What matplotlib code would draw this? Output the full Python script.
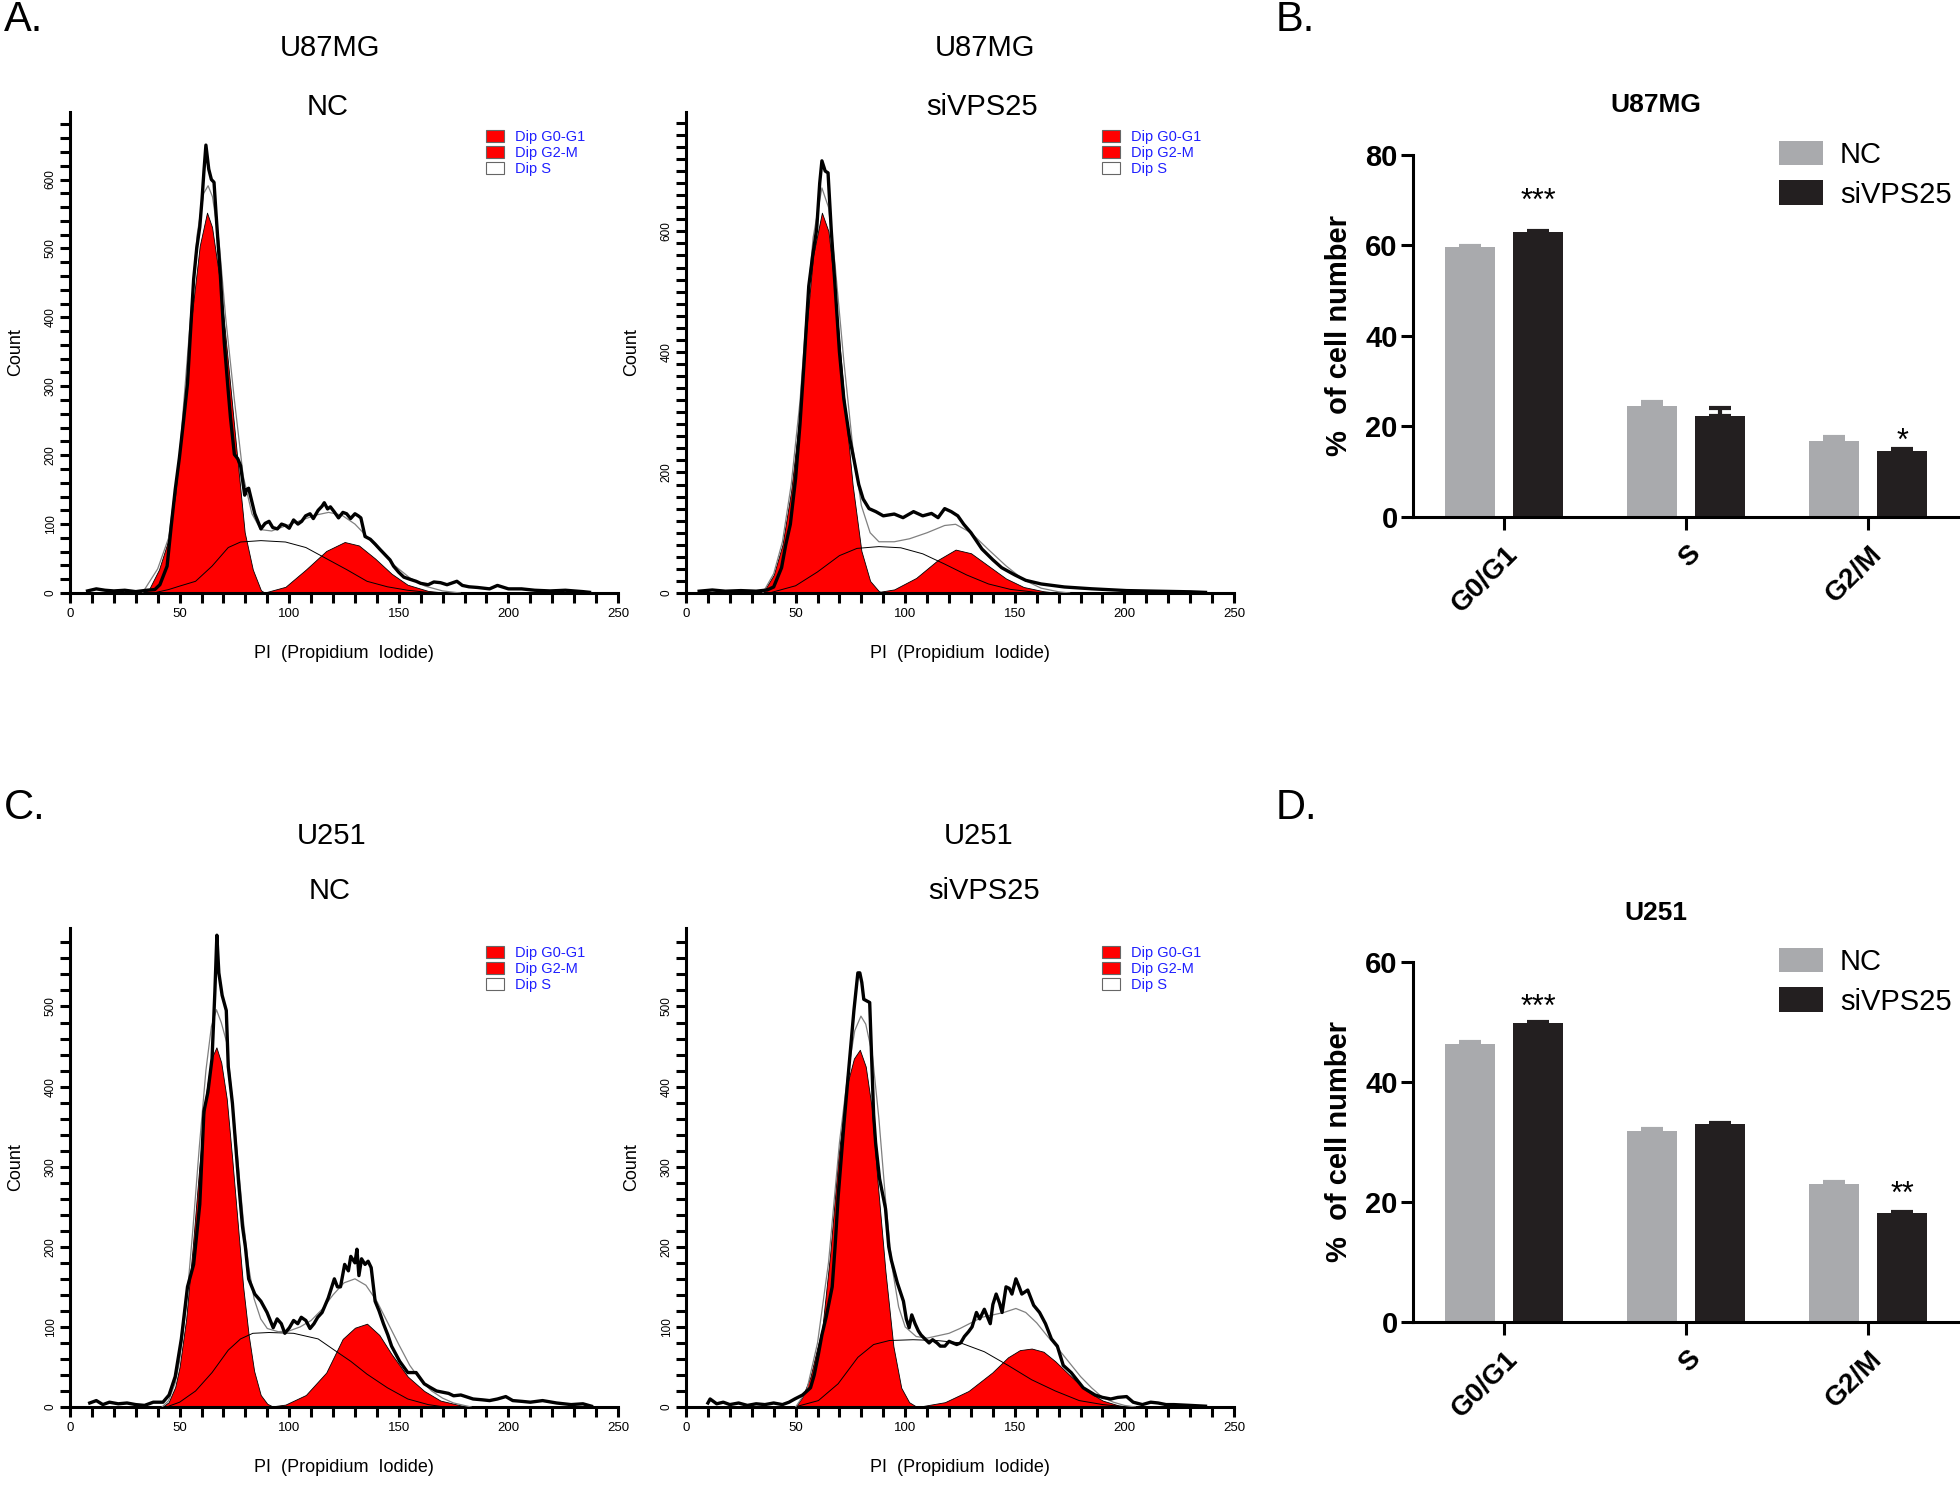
import numpy as np
import matplotlib
matplotlib.use('Agg')
import matplotlib.pyplot as plt
from matplotlib.patches import Patch
from matplotlib.ticker import MultipleLocator
import matplotlib.transforms as mtransforms

plt.rcParams['font.family'] = ['Liberation Sans', 'DejaVu Sans']

# ---- cell cycle histograms, (PI, count) pairs ----
# U87MG NC
u87_nc_hist = [(8, 3), (12, 6), (16, 4), (20, 3), (25, 4), (30, 2), (35, 4), (38.7, 5), (41, 12), (44.3, 39),
               (46.2, 98), (48, 150), (49.9, 196), (51.8, 250), (53.6, 304), (55, 380), (56.4, 455), (57.8, 500),
               (59.2, 531), (60.2, 570), (61.1, 612), (62, 650), (63.3, 615), (64.5, 600), (65.7, 596), (66.6, 552),
               (67.5, 510), (68.5, 466), (70.4, 363), (72, 300), (73.2, 255), (75, 201), (76.5, 195), (77.8, 185),
               (79.7, 142), (80.5, 150), (81.5, 152), (84.3, 115), (87.1, 93), (89, 101), (90.8, 104), (92.5, 95),
               (94.6, 93), (96.5, 100), (98.3, 98), (100, 94), (102, 106), (104, 100), (105.7, 104), (107.5, 112),
               (109.5, 115), (111, 108), (113.2, 120), (115, 126), (116, 131), (117.5, 122), (118.8, 125),
               (120.5, 118), (122.5, 109), (124.5, 117), (126.2, 115), (128, 108), (130, 115), (131.5, 112),
               (132.7, 109), (134.6, 82), (137, 78), (139.2, 71), (141.5, 63), (143.9, 55), (146, 48), (147.6, 39),
               (150, 30), (152.3, 23), (155, 20), (157.9, 17), (160, 14), (163.4, 12), (166, 16), (169, 15),
               (172, 12), (176.5, 17), (179, 11), (182, 9), (186, 8), (191.4, 6), (195, 11), (200, 6), (206, 6),
               (212, 4), (219, 3), (226, 4), (234, 2), (237, 1)]
u87_nc_g1 = [(33, 0), (36, 5), (40.6, 34), (44.3, 71), (48, 142), (51.7, 260), (55.5, 401), (59.2, 504), (62.5, 552),
             (64.8, 531), (68.5, 450), (72.2, 331), (76, 206), (79.7, 88), (83.4, 34), (87.1, 4), (89, 0)]
u87_nc_s = [(38, 0), (45, 5), (50, 10), (57.3, 17), (64.8, 39), (72.2, 66), (77.8, 74), (87.1, 76), (98.3, 74),
            (107.6, 66), (116.9, 50), (126.2, 34), (135.5, 17), (144.8, 9), (154, 4), (163, 1), (170, 0)]
u87_nc_g2 = [(88, 0), (98.3, 9), (107.6, 34), (116.9, 61), (125.3, 74), (131.8, 69), (139.2, 50), (146.7, 28),
             (154, 12), (163.4, 3), (172.7, 0)]
u87_nc_fit = [(33, 0), (40, 35), (45, 80), (50, 200), (55, 400), (58, 520), (61, 580), (63, 591), (65, 575), (68, 510),
              (71, 400), (75, 280), (79, 170), (83, 115), (87, 92), (92, 90), (98, 97), (105, 105), (112, 113),
              (118, 117), (124, 113), (130, 100), (136, 80), (142, 60), (148, 40), (155, 22), (162, 10), (170, 3),
              (178, 0)]

# U87MG siVPS25
u87_si_hist = [(6, 3), (12, 5), (18, 3), (25, 4), (32, 3), (37, 5), (40, 10), (43.6, 42), (45.5, 80), (47.6, 114),
               (50, 190), (52, 280), (54, 390), (56, 509), (57.8, 560), (59.6, 603), (61, 680), (62, 717),
               (63.5, 700), (64.8, 697), (66.3, 600), (68, 509), (70, 400), (72, 322), (74.5, 260), (76.8, 218),
               (78.8, 180), (80.8, 156), (83.5, 140), (86.6, 135), (90, 128), (95, 131), (99, 125), (103.8, 135),
               (108, 128), (112, 132), (115, 125), (118, 140), (121, 135), (124, 128), (126.7, 114), (130, 100),
               (135, 73), (140, 55), (144, 42), (150, 30), (155, 21), (162, 15), (172.6, 10), (185, 7), (201, 4),
               (215, 3), (230, 2), (237, 1)]
u87_si_g1 = [(35, 0), (40, 30), (44, 80), (48, 170), (52, 300), (55, 440), (58, 560), (62, 631), (65, 600), (68, 500),
             (72, 330), (76, 180), (80, 70), (84, 20), (88, 3), (90, 0)]
u87_si_s = [(38, 0), (50, 12), (60, 35), (70, 62), (78, 74), (88, 77), (98, 75), (108, 65), (118, 48), (128, 30),
            (138, 15), (148, 6), (160, 1), (166, 0)]
u87_si_g2 = [(85, 0), (95, 6), (105, 25), (115, 55), (123, 72), (130, 66), (138, 45), (146, 24), (154, 10), (163, 3),
             (170, 0)]
u87_si_fit = [(35, 0), (40, 32), (44, 85), (48, 180), (52, 318), (55, 465), (58, 590), (62, 672), (65, 640), (68, 545),
              (72, 385), (76, 245), (80, 145), (84, 100), (88, 85), (95, 85), (102, 90), (110, 100), (118, 112),
              (123, 114), (130, 100), (138, 72), (146, 45), (154, 22), (162, 8), (170, 2), (175, 0)]

# U251 NC
u251_nc_hist = [(9, 5), (12, 8), (15, 3), (18, 6), (22, 4), (26, 5), (30, 3), (34, 2), (38, 6), (42.4, 6), (45.2, 15),
                (48, 38), (50.8, 85), (53.6, 150), (56.4, 178), (59.2, 253), (61.1, 369), (62.9, 393), (64.8, 435),
                (66.1, 519), (67, 589), (67.9, 542), (69.4, 514), (71.3, 495), (72.2, 425), (74.1, 379), (76.9, 281),
                (78.7, 225), (80, 200), (81.5, 160), (84.3, 141), (87.1, 132), (89.9, 118), (92.7, 99), (94.5, 110),
                (96.4, 104), (98, 92), (100.1, 99), (102, 108), (103.9, 104), (105.5, 112), (107.6, 108), (109.5, 98),
                (111.3, 104), (113, 112), (115, 118), (117.8, 136), (120.6, 160), (122, 150), (123.4, 150),
                (125.3, 178), (127, 170), (128.1, 188), (130, 180), (130.9, 197), (131.8, 164), (133, 185),
                (134.6, 178), (136, 182), (137.4, 174), (139.2, 132), (141, 120), (143, 104), (145, 90), (146.7, 76),
                (150.4, 57), (154.1, 43), (157.9, 43), (161.6, 29), (164, 25), (167.2, 20), (172.7, 17), (175, 14),
                (178.3, 15), (183.9, 10), (188, 9), (191.4, 8), (195, 10), (198.8, 13), (202, 8), (206.3, 7), (210, 6),
                (215.6, 8), (222, 5), (228.6, 3), (234, 4), (237.9, 1)]
u251_nc_g1 = [(42, 0), (45, 6), (48, 25), (50, 50), (53, 110), (56, 200), (59, 300), (62, 390), (64.5, 435),
              (66.8, 449), (69, 430), (71.5, 385), (74, 310), (76.5, 230), (79, 150), (81.5, 90), (84, 45), (87, 15),
              (90, 4), (93, 0)]
u251_nc_s = [(44, 0), (50, 6), (57.3, 20), (64.8, 43), (72.2, 71), (77.8, 85), (83.4, 92), (90.8, 93), (102, 92),
             (113.2, 85), (120.6, 71), (128.1, 57), (135.5, 41), (144.8, 24), (154.1, 10), (163.4, 3), (171, 0)]
u251_nc_g2 = [(90, 0), (98.3, 3), (107.6, 15), (116.9, 43), (124.4, 85), (130, 99), (135.5, 104), (141.1, 90),
              (146.7, 66), (154.1, 38), (161.6, 20), (169, 8), (178.3, 2), (183, 0)]
u251_nc_fit = [(42, 0), (45, 8), (48, 30), (50, 58), (53, 125), (56, 220), (59, 325), (62, 420), (64.5, 475),
               (66.8, 496), (69, 480), (71.5, 455), (74, 385), (76.5, 310), (79, 235), (81.5, 175), (84, 135),
               (87, 110), (90, 98), (95, 94), (100, 95), (105, 100), (110, 108), (115, 122), (120, 140), (125, 155),
               (130, 160), (135, 152), (140, 132), (145, 105), (150, 78), (155, 52), (160, 33), (165, 20), (170, 11),
               (175, 5), (183, 0)]

# U251 siVPS25
u251_si_hist = [(10, 5), (11, 10), (14, 4), (17, 6), (20, 3), (24, 5), (28, 2), (32, 4), (36, 3), (40, 5), (44, 3),
                (47, 6), (49.6, 10), (53.2, 15), (56.8, 24), (58.5, 40), (60.4, 66), (62, 90), (64, 113), (66.7, 150),
                (68, 200), (69.4, 262), (72.1, 355), (74.8, 439), (76.6, 495), (78.4, 542), (79.3, 542), (80.2, 530),
                (81.1, 509), (83.8, 505), (85.6, 365), (86.5, 330), (88.3, 285), (91, 248), (92.5, 200), (93.7, 183),
                (96.4, 155), (99.2, 132), (100.5, 110), (101.8, 99), (103, 115), (104.5, 104), (106, 95), (107.2, 90),
                (109, 85), (110.9, 80), (112.5, 84), (114.5, 80), (116, 76), (118.1, 76), (120, 82), (121.7, 80),
                (123.5, 78), (125.3, 80), (127, 88), (128.9, 94), (130.5, 100), (132.5, 118), (134, 110),
                (136.1, 122), (138.8, 104), (140, 128), (141.5, 141), (143, 130), (144.2, 118), (146, 150),
                (147.5, 148), (148.7, 141), (150.5, 160), (152, 150), (153.2, 141), (155.9, 146), (158.6, 127),
                (161.3, 118), (164, 104), (166.7, 85), (169.4, 76), (172.1, 52), (175.7, 43), (181.2, 24),
                (186.6, 15), (190, 12), (193.8, 10), (197, 12), (201, 13), (204, 6), (208.2, 3), (212, 6),
                (215.4, 5), (219, 3), (222.6, 3), (230, 2), (237, 1)]
u251_si_g1 = [(50, 0), (53, 12), (56.8, 38), (60, 75), (62.2, 99), (65.8, 192), (69.4, 309), (73, 397), (76.6, 435),
              (79.3, 446), (82, 425), (84.7, 374), (87.4, 281), (91, 169), (94.6, 76), (98.2, 24), (101.8, 6),
              (105.4, 0)]
u251_si_s = [(49.6, 0), (60.4, 8), (69.4, 29), (78.4, 62), (85.6, 78), (92.8, 83), (103.6, 84), (114.5, 83),
             (125.3, 80), (136.1, 69), (146.9, 52), (157.7, 34), (168.5, 20), (179.4, 8), (190.2, 3), (201, 0)]
u251_si_g2 = [(105.4, 0), (118.1, 6), (128.9, 20), (139.7, 43), (146.9, 62), (152.3, 71), (157.7, 73), (163.1, 69),
              (168.5, 57), (175.7, 38), (182.9, 20), (190.1, 8), (197.3, 2), (204.5, 0)]
u251_si_fit = [(50, 0), (55, 20), (60, 80), (65, 180), (70, 330), (74, 420), (77, 470), (79.8, 488), (82, 478),
               (85, 440), (88, 360), (91, 260), (94, 175), (97, 125), (100, 100), (105, 88), (110, 86), (115, 89),
               (120, 92), (125, 98), (130, 105), (135, 112), (140, 115), (145, 118), (150.5, 123), (155, 118),
               (160, 105), (165, 88), (170, 72), (175, 55), (180, 38), (185, 24), (190, 12), (195, 6), (200, 2),
               (205, 0)]

# ---- cell cycle distribution (% of cells) ----
phases = ['G0/G1', 'S', 'G2/M']
u87_nc_pct = [59.7, 24.5, 16.8]
u87_nc_err = [0.2, 0.9, 0.9]
u87_si_pct = [63.0, 22.4, 14.6]
u87_si_err = [0.2, 1.6, 0.4]
u87_stars = ['***', '', '*']
u87_star_y = [69.6, 0, 16.6]

u251_nc_pct = [46.4, 31.8, 23.0]
u251_nc_err = [0.2, 0.3, 0.3]
u251_si_pct = [49.8, 33.0, 18.2]
u251_si_err = [0.2, 0.2, 0.2]
u251_stars = ['***', '', '**']
u251_star_y = [52.4, 0, 21.2]

GREY = '#a9aaad'
BLACK = '#231f20'
W, H = 1960, 1489


def xy(pairs):
    a = np.array(pairs, dtype=float)
    return a[:, 0], a[:, 1]


def px_rect(x0, y_top, x1, y_bot):
    return [x0 / W, 1 - y_bot / H, (x1 - x0) / W, (y_bot - y_top) / H]


def histogram_panel(ax, hist, g1, s, g2, fit, ymax, ymajor):
    for comp in (g1, g2):
        x, y = xy(comp)
        ax.fill_between(x, 0, y, facecolor='red', edgecolor='black', linewidth=0.6, zorder=2)
    x, y = xy(s)
    ax.plot(x, y, color='black', lw=0.7, zorder=3)
    x, y = xy(fit)
    ax.plot(x, y, color='#808080', lw=0.9, zorder=4)
    x, y = xy(hist)
    ax.plot(x, y, color='black', lw=2.4, zorder=5)

    ax.set_xlim(0, 250)
    ax.set_ylim(0, ymax)
    ax.xaxis.set_major_locator(MultipleLocator(50))
    ax.xaxis.set_minor_locator(MultipleLocator(10))
    ax.yaxis.set_major_locator(MultipleLocator(ymajor))
    ax.yaxis.set_minor_locator(MultipleLocator(20))
    ax.tick_params(which='both', direction='out', width=2.2, length=7.5)
    ax.tick_params(axis='x', labelsize=9.5, pad=3)
    ax.tick_params(axis='y', labelsize=8.5, labelrotation=90, pad=2)
    for lab in ax.get_yticklabels():
        lab.set_va('center')
    for side in ('top', 'right'):
        ax.spines[side].set_visible(False)
    for side in ('left', 'bottom'):
        ax.spines[side].set_linewidth(2.2)
    ax.set_xlabel('PI  (Propidium  Iodide)', fontsize=13)
    ax.xaxis.set_label_coords(0.5, -0.108)
    ax.set_ylabel('Count', fontsize=13)
    ax.yaxis.set_label_coords(-0.083, 0.5)

    handles = [Patch(facecolor='red', edgecolor='#666666', lw=0.8, label='Dip G0-G1'),
               Patch(facecolor='red', edgecolor='#666666', lw=0.8, label='Dip G2-M'),
               Patch(facecolor='white', edgecolor='#666666', lw=0.8, label='Dip S')]
    ax.legend(handles=handles, loc='upper left', bbox_to_anchor=(0.76, 0.962), frameon=False, fontsize=10.5,
              labelcolor='#1f1fff', handlelength=1.2, handleheight=0.9, handletextpad=0.75, labelspacing=0.12,
              borderpad=0, borderaxespad=0)


def bar_panel(ax, title, nc, nc_err, si, si_err, stars, star_y, ymax):
    x = np.arange(len(phases))
    w = 0.27
    off = 0.187
    ax.bar(x - off, nc, w, color=GREY, label='NC', zorder=2)
    ax.bar(x + off, si, w, color=BLACK, label='siVPS25', zorder=2)
    ax.errorbar(x - off, nc, yerr=[np.zeros(len(nc)), nc_err], fmt='none', ecolor=GREY, elinewidth=3,
                capsize=8, capthick=3, zorder=1)
    ax.errorbar(x + off, si, yerr=[np.zeros(len(si)), si_err], fmt='none', ecolor=BLACK, elinewidth=3,
                capsize=8, capthick=3, zorder=1)
    for xi, st, sy in zip(x, stars, star_y):
        if st:
            ax.text(xi + off, sy, st, ha='center', va='center', fontsize=22)

    ax.set_xlim(-0.5, 2.5)
    ax.set_ylim(0, ymax)
    ax.yaxis.set_major_locator(MultipleLocator(20))
    ax.tick_params(direction='out', width=2.2, length=9)
    ax.tick_params(axis='y', labelsize=21, pad=2)
    ax.set_xticks(x)
    ax.set_xticklabels(phases, rotation=45, ha='right', va='center', rotation_mode='anchor',
                       fontweight='bold', fontsize=20)
    # shift the slanted labels after tick_params, which would reset their transform
    offset = mtransforms.ScaledTranslation(0.1, -0.16, ax.figure.dpi_scale_trans)
    for lab in ax.get_xticklabels():
        lab.set_transform(lab.get_transform() + offset)
    for lab in ax.get_yticklabels():
        lab.set_fontweight('bold')
    for side in ('top', 'right'):
        ax.spines[side].set_visible(False)
    for side in ('left', 'bottom'):
        ax.spines[side].set_linewidth(2.2)
    ax.set_ylabel('%  of cell number', fontsize=21, fontweight='bold')
    ax.yaxis.set_label_coords(-0.11, 0.5)
    ax.text(0.445, 1.137, title, transform=ax.transAxes, ha='center', va='center', fontsize=19, fontweight='bold')
    ax.legend(loc='upper left', bbox_to_anchor=(0.67, 1.04), frameon=False, fontsize=21, handlelength=1.5,
              handleheight=0.9, handletextpad=0.6, labelspacing=0.4, borderpad=0, borderaxespad=0)


fig = plt.figure(figsize=(W / 100, H / 100), dpi=100)

ax_a1 = fig.add_axes(px_rect(70, 112, 618, 593))
ax_a2 = fig.add_axes(px_rect(686, 112, 1234, 593))
ax_c1 = fig.add_axes(px_rect(70, 928, 618, 1407))
ax_c2 = fig.add_axes(px_rect(686, 928, 1234, 1407))
ax_b = fig.add_axes(px_rect(1413, 155, 1959, 517))
ax_d = fig.add_axes(px_rect(1413, 962, 1959, 1322))

histogram_panel(ax_a1, u87_nc_hist, u87_nc_g1, u87_nc_s, u87_nc_g2, u87_nc_fit, 698, 100)
histogram_panel(ax_a2, u87_si_hist, u87_si_g1, u87_si_s, u87_si_g2, u87_si_fit, 798, 200)
histogram_panel(ax_c1, u251_nc_hist, u251_nc_g1, u251_nc_s, u251_nc_g2, u251_nc_fit, 598, 100)
histogram_panel(ax_c2, u251_si_hist, u251_si_g1, u251_si_s, u251_si_g2, u251_si_fit, 598, 100)

bar_panel(ax_b, 'U87MG', u87_nc_pct, u87_nc_err, u87_si_pct, u87_si_err, u87_stars, u87_star_y, 80)
bar_panel(ax_d, 'U251', u251_nc_pct, u251_nc_err, u251_si_pct, u251_si_err, u251_stars, u251_star_y, 60)


def fig_text(x, y, s, **kw):
    fig.text(x / W, 1 - y / H, s, ha='center', va='center', **kw)


fig_text(330, 48, 'U87MG', fontsize=21)
fig_text(328, 107, 'NC', fontsize=21)
fig_text(985, 48, 'U87MG', fontsize=21)
fig_text(982, 107, 'siVPS25', fontsize=21)
fig_text(332, 836, 'U251', fontsize=21)
fig_text(330, 891, 'NC', fontsize=21)
fig_text(979, 836, 'U251', fontsize=21)
fig_text(984, 891, 'siVPS25', fontsize=21)

for label, x0, y0 in (('A.', 4, 0), ('B.', 1276, 0), ('C.', 4, 788), ('D.', 1276, 788)):
    fig.text(x0 / W, 1 - y0 / H, label, ha='left', va='top', fontsize=30)

fig.savefig('out.png', dpi=100)
